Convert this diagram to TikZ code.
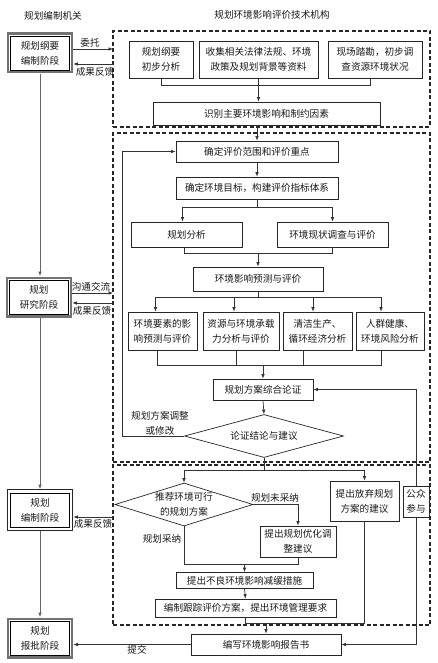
\documentclass[tikz,border=0pt]{standalone}
\usepackage{fontspec}
\setmainfont{Noto Sans CJK SC}
\usetikzlibrary{arrows.meta,shapes.geometric,calc}
\begin{document}
\begin{tikzpicture}[x=1pt,y=-1pt,
  every node/.style={font=\fontsize{9.6}{15}\selectfont, text=black!90},
  box/.style={draw=black!85, line width=0.7pt, inner sep=0pt, align=center},
  lbox/.style={draw=black, line width=0.6pt, inner sep=0pt, align=center, minimum width=59, minimum height=34},
  dia/.style={draw=black!85, line width=0.7pt, diamond, inner sep=0pt, align=center},
  con/.style={draw=black!80, line width=0.7pt},
  arr/.style={con, -{Latex[length=4.5pt,width=3.6pt]}},
  dbox/.style={draw=black!85, line width=1.1pt, dash pattern=on 4pt off 2.5pt, inner sep=0pt, outer sep=0pt},
  lbl/.style={inner sep=0pt, align=center}
]
\fill[white] (0,0) rectangle (438,663);
\useasboundingbox (0,0) rectangle (438,663);

% dashed frames
\node[dbox, minimum width=317, minimum height=96] (D1) at (271.5,79) {};
\node[dbox, minimum width=317, minimum height=329] (D2) at (271.5,297.5) {};
\node[dbox, minimum width=317, minimum height=160] (D3) at (271.5,545) {};

% titles
\node[lbl] (t1) at (53,16) {规划编制机关};
\node[lbl] (t2) at (272,15) {规划环境影响评价技术机构};

% left column
\node[lbox] (L1) at (40,53) {规划纲要\\编制阶段};
\node[lbox] (L2) at (39,297) {规划\\研究阶段};
\node[lbox] (L3) at (40,510) {规划\\编制阶段};
\node[lbox] (L4) at (40,638) {规划\\报批阶段};
\draw[line width=2.4pt, black!55] ($(L1.south west)+(-2,2)$) rectangle ($(L1.north east)+(2,-2)$);
\draw[line width=2.4pt, black!55] ($(L2.south west)+(-2,2)$) rectangle ($(L2.north east)+(2,-2)$);
\draw[line width=0.7pt, black!85] ($(L3.south west)+(-3,3)$) rectangle ($(L3.north east)+(3,-3)$);
\draw[line width=2.4pt, black!55] ($(L4.south west)+(-2,2)$) rectangle ($(L4.north east)+(2,-2)$);

\draw[arr, black!60] ($(L1.south)+(0,3.5)$) -- ($(L1.south |- L2.north)+(0,-3.5)$);
\draw[arr, black!60] ($(L1.south |- L2.south)+(0,3.5)$) -- ($(L3.north)+(0,-3.5)$);
\draw[arr, black!60] ($(L3.south)+(0,3.5)$) -- ($(L4.north)+(0,-3.5)$);

% left arrows
\coordinate (w1) at ($(L1.east)+(3.5,-4)$);
\coordinate (f1) at ($(L1.east)+(3.5,11)$);
\draw[arr] (w1) -- (w1 -| D1.west);
\draw[arr] (f1 -| D1.west) -- (f1);
\node[lbl] (lw1) at (90,43) {委托};
\node[lbl] (lf1) at (95,72) {成果反馈};

\coordinate (w2) at ($(L2.east)+(3.5,-4)$);
\coordinate (f2) at ($(L2.east)+(3.5,6)$);
\draw[arr] (w2) -- (w2 -| D2.west);
\draw[arr] (f2 -| D2.west) -- (f2);
\node[lbl] (lw2) at (91,287) {沟通交流};
\node[lbl] (lf2) at (92,311) {成果反馈};

\coordinate (f3) at ($(L3.east)+(3.5,7)$);
\draw[arr] (f3 -| D3.west) -- (f3);
\node[lbl] (lf3) at (93,524) {成果反馈};

% box 1 group
\node[box, minimum width=64, minimum height=37] (b1) at (161,59.5) {规划纲要\\初步分析};
\node[box, minimum width=119, minimum height=37] (b2) at (258.5,59.5) {收集相关法律法规、环境\\政策及规划背景等资料};
\node[box, minimum width=94, minimum height=37] (b3) at (375,59.5) {现场踏勘，初步调\\查资源环境状况};
\node[box, minimum width=227, minimum height=23] (b4) at (266.5,113.5) {识别主要环境影响和制约因素};
\coordinate (j0) at ($(b2.south)+(0,7)$);
\coordinate (b3b) at ($(b3.south)+(-5,0)$);
\draw[con] (b1.south) |- (j0) -| (b3b);
\draw[arr] (b2.south) -- (b2.south |- b4.north);

% box 2 group
\node[box, minimum width=162, minimum height=21] (b5) at (257,151.5) {确定评价范围和评价重点};
\node[box, minimum width=162, minimum height=22] (b6) at (257,188) {确定环境目标，构建评价指标体系};
\draw[arr] (b5.north |- b4.south) -- (b5.north);
\draw[arr] (b5.south) -- (b6.north);

\node[box, minimum width=111, minimum height=25] (b7) at (186.5,234.5) {规划分析};
\node[box, minimum width=111, minimum height=25] (b8) at (332.5,234.5) {环境现状调查与评价};
\coordinate (j1) at ($(b6.south)+(0,8)$);
\draw[con] (b6.south) -- (j1);
\draw[arr] (j1) -| ($(b7.north)+(-4,0)$);
\draw[arr] (j1) -| (b8.north);

\node[box, minimum width=130, minimum height=24] (b9) at (258,279) {环境影响预测与评价};
\coordinate (j2) at ($(b7.south)+(-2,6)$);
\draw[con] ($(b7.south)+(-2,0)$) -- (j2) -| (b8.south);
\draw[arr] (j2 -| b9.north) -- (b9.north);

\node[box, minimum width=69, minimum height=38] (c1) at (162.5,331) {环境要素的影\\响预测与评价};
\node[box, minimum width=76, minimum height=38] (c2) at (241,331) {资源与环境承载\\力分析与评价};
\node[box, minimum width=69, minimum height=38] (c3) at (317.5,331) {清洁生产、\\循环经济分析};
\node[box, minimum width=68, minimum height=38] (c4) at (390,331) {人群健康、\\环境风险分析};
\coordinate (j3) at ($(b9.south)+(0,6)$);
\coordinate (c1t) at ($(c1.north)+(-7,0)$);
\coordinate (c2t) at ($(c2.north)+(-7,0)$);
\coordinate (c3t) at ($(c3.north)+(-4.5,0)$);
\coordinate (c4t) at ($(c4.north)+(-9,0)$);
\draw[con] (b9.south) -- (j3);
\draw[con] (c1t |- j3) -- (c4t |- j3);
\draw[arr] (c1t |- j3) -- (c1t);
\draw[arr] (c2t |- j3) -- (c2t);
\draw[arr] (c3t |- j3) -- (c3t);
\draw[arr] (c4t |- j3) -- (c4t);

\node[box, minimum width=100, minimum height=21] (b10) at (263,389.5) {规划方案综合论证};
\coordinate (c1b) at ($(c1.south)+(-5.5,0)$);
\coordinate (c2b) at ($(c2.south)+(-5,0)$);
\coordinate (c3b) at ($(c3.south)+(-14.5,0)$);
\coordinate (c4b) at ($(c4.south)+(-9,0)$);
\coordinate (j4) at ($(c1b)+(0,15)$);
\draw[con] (c1b) -- (j4) -| (c4b);
\draw[con] (c2b) -- (c2b |- j4);
\draw[con] (c3b) -- (c3b |- j4);
\draw[arr] (j4 -| b10.north) -- (b10.north);

\node[dia, aspect=3.7, minimum width=159, minimum height=43] (d1) at (264,436) {论证结论与建议};
\draw[arr] (b10.south) -- (d1.north);
\draw[arr] (d1.west) -- ++(-62,0) |- (b5.west);
\node[lbl] (lp) at (160,423) {规划方案调整\\或修改};

% box 3 group
\node[dia, aspect=3.2, minimum width=138, minimum height=43] (d2) at (184,504.5) {推荐环境可行\\的规划方案};
\node[box, minimum width=69, minimum height=40] (b11) at (364.5,501) {提出放弃规划\\方案的建议};
\node[box, minimum width=26, minimum height=31] (b12) at (416,501.5) {公众\\参与};
\coordinate (j5) at ($(d1.south)+(0,12)$);
\draw[con] (d1.south) -- (j5);
\draw[arr] (j5) -| (d2.north);
\draw[arr] (j5) -| (b11.north);

\node[box, minimum width=76, minimum height=31] (b14) at (298,541.5) {提出规划优化调\\整建议};
\draw[arr] (d2.east) -| (b14.north);
\node[lbl] (lna) at (275,498) {规划未采纳};
\node[lbl] (lya) at (162,539) {规划采纳};

\node[box, minimum width=137, minimum height=16] (b15) at (244.5,580.5) {提出不良环境影响减缓措施};
\node[box, minimum width=181, minimum height=18] (b16) at (245.5,608) {编制跟踪评价方案，提出环境管理要求};
\coordinate (j6) at ($(d2.south)+(0,38)$);
\draw[con] (d2.south) -- (j6) -| (b14.south);
\draw[arr] (j6 -| b15.north) -- (b15.north);
\draw[arr] (b15.south) -- (b16.north);

\node[box, minimum width=150, minimum height=21] (b13) at (266,644.5) {编写环境影响报告书};
\coordinate (j7) at ($(b16.south)+(0,6)$);
\draw[con] (b16.south) -- (j7) -| (b11.south);
\draw[arr] (j7 -| b13.north) -- (b13.north);

\draw[arr] (b12.north) |- (b10.east);
\draw[arr] (b12.south) |- (b13.east);

\coordinate (p1) at ($(L4.east)+(3.5,0)$);
\draw[arr] (b13.west) -- (b13.west -| p1);
\node[lbl] (lt) at (137,650) {提交};
\end{tikzpicture}
\end{document}
